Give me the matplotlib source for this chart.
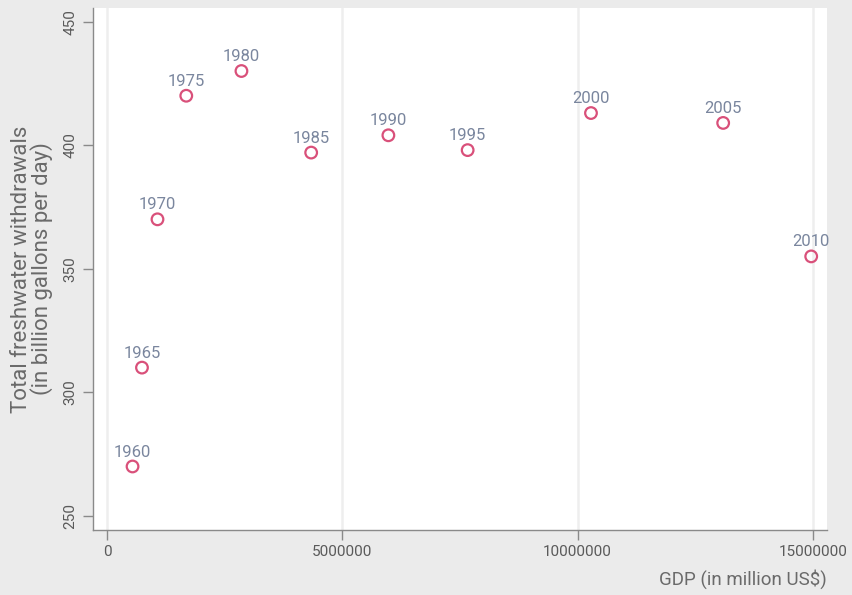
import matplotlib
matplotlib.use("Agg")
import matplotlib.pyplot as plt

# data
years = ["1960", "1965", "1970", "1975", "1980", "1985", "1990", "1995", "2000", "2005", "2010"]
gdp = [543300, 743700, 1073300, 1684900, 2857300, 4339000, 5979600, 7664100, 10284800, 13093700, 14964400]
withdrawals = [270, 310, 370, 420, 430, 397, 404, 398, 413, 409, 355]
x_ticks = [0, 5000000, 10000000, 15000000]
y_ticks = [250, 300, 350, 400, 450]

plt.rcParams['font.family'] = ['Roboto', 'DejaVu Sans']

fig = plt.figure(figsize=(8.53, 5.95), dpi=100, facecolor="#ebebeb")
ax = fig.add_axes([93/853, 1 - 530/595, (827-93)/853, (530-8)/595])
ax.set_facecolor("white")

ax.scatter(gdp, withdrawals, s=70, facecolors="none", edgecolors="#d9507a", linewidths=1.6, zorder=3)
for yr, x, y in zip(years, gdp, withdrawals):
    ax.annotate(yr, (x, y), xytext=(0, 5), textcoords="offset points", ha="center", va="bottom",
                fontsize=12, color="#7a869e", zorder=4)

ax.set_xlim(-297000, 15300000)
ax.set_ylim(244.3, 455.5)
ax.set_xticks(x_ticks)
ax.set_xticklabels([str(t) for t in x_ticks])
ax.set_yticks(y_ticks)
ax.set_yticklabels([str(t) for t in y_ticks], rotation=90, va="center")
ax.grid(axis="x", color="#eeeeee", linewidth=1.8, zorder=0)
ax.set_axisbelow(True)

for s in ["top", "right"]:
    ax.spines[s].set_visible(False)
for s in ["left", "bottom"]:
    ax.spines[s].set_color("#8a8a8a")
    ax.spines[s].set_linewidth(1.0)
ax.tick_params(axis="both", colors="#8a8a8a", labelcolor="#5a5a5a", labelsize=11, length=7, width=1.0, pad=4)

ax.set_ylabel("Total freshwater withdrawals\n(in billion gallons per day)", fontsize=16, color="#6a6a6a",
              labelpad=8, linespacing=0.85)
ax.set_xlabel("GDP (in million US$)", fontsize=13.5, color="#6a6a6a", loc="right", labelpad=7)

fig.savefig("out.png", dpi=100, facecolor=fig.get_facecolor())
